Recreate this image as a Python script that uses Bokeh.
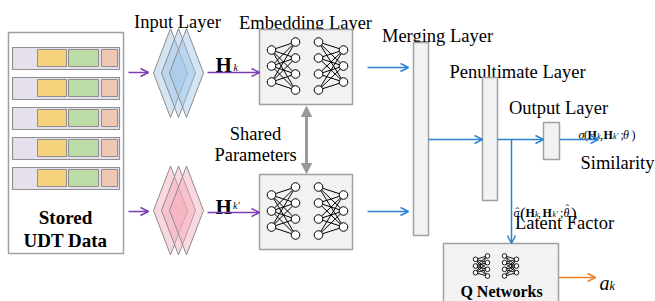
from bokeh.plotting import figure
from bokeh.models import Range1d, Arrow, OpenHead, NormalHead
from bokeh.core.properties import value
from bokeh.embed import file_html
from bokeh.resources import INLINE

# ---- content -------------------------------------------------------------
record_rows = ["r1", "r2", "r3", "r4", "r5"]            # stored UDT records
field_colors = ["#E5E0EC", "#F3D27B", "#BDDCA5", "#EFC8B4"]  # key / feature fields
layer_titles = ["Input Layer", "Embedding Layer", "Merging Layer",
                "Penultimate Layer", "Output Layer"]
store_label = ["Stored", "UDT Data"]
shared_label = ["Shared", "Parameters"]
net_left = [3, 4]    # nodes per column, first half of the embedding net
net_right = [4, 3]   # nodes per column, second half
output_names = ["Similarity", "Latent Factor", "Q Networks"]

FONT = value("Liberation Serif")
GRAY = "#A0A0A0"
BOXFILL = "#F2F2F2"
PURPLE = "#7B3DB3"
BLUE = "#2B83D3"
ORANGE = "#F0822D"

p = figure(width=655, height=301, x_range=Range1d(0, 655), y_range=Range1d(301, 0),
           output_backend="svg", toolbar_location=None, min_border=0)
p.axis.visible = False
p.grid.visible = False
p.outline_line_color = None
p.background_fill_color = "white"
p.border_fill_color = "white"


def box(l, r, t, b, fill, line=GRAY, lw=1.5):
    p.quad(left=[l], right=[r], top=[t], bottom=[b], fill_color=fill,
           line_color=line, line_width=lw)


def txt(x, y, s, size=18.5, style="normal", align="center"):
    p.text(x=[x], y=[y], text=[s], text_font=FONT, text_font_size=f"{size}px",
           text_font_style=style, text_align=align, text_baseline="alphabetic",
           text_color="black")


def arrow(x0, y0, x1, y1, color, lw=1.5, size=8):
    p.add_layout(Arrow(end=OpenHead(size=size, line_color=color, line_width=lw),
                       x_start=x0, y_start=y0, x_end=x1, y_end=y1,
                       line_color=color, line_width=lw))


def net(cols_x, counts, yc, spacing, r, lw=1.0):
    cols = []
    for cx, n in zip(cols_x, counts):
        ys = [yc + (i - (n - 1) / 2) * spacing for i in range(n)]
        cols.append([(cx, y) for y in ys])
    xs0, ys0, xs1, ys1 = [], [], [], []
    for a, b in zip(cols[:-1], cols[1:]):
        for (xa, ya) in a:
            for (xb, yb) in b:
                xs0.append(xa); ys0.append(ya); xs1.append(xb); ys1.append(yb)
    p.segment(x0=xs0, y0=ys0, x1=xs1, y1=ys1, line_color="black", line_width=lw)
    px = [pt[0] for c in cols for pt in c]
    py = [pt[1] for c in cols for pt in c]
    p.circle(x=px, y=py, radius=r, fill_color="white", line_color="black", line_width=lw)


# ---- stored UDT data -------------------------------------------------------
box(8, 123, 32, 253, "white")
for i, _ in enumerate(record_rows):
    top = 47 + 30 * i
    box(12, 119, top, top + 22, field_colors[0], line="#8F8F8F", lw=1.2)
    for (l, r), c in zip([(37, 66), (68, 98), (101, 117)], field_colors[1:]):
        box(l, r, top + 2, top + 19, c, line="#8F8F8F", lw=1.0)
txt(65, 217, store_label[0], size=19, style="bold")
txt(65, 240, store_label[1], size=19, style="bold")

# ---- input layer diamonds -------------------------------------------------
for yc, col in [(72.5, "#9DC3E6"), (210, "#F5A9B8")]:
    xs, ys = [], []
    for cx in [170, 178, 186]:
        xs.append([cx - 17, cx, cx + 17, cx])
        ys.append([yc, yc - 44.5, yc, yc + 44.5])
    p.patches(xs=xs, ys=ys, fill_color=col, fill_alpha=0.45,
              line_color="#8C8C8C", line_width=1)

arrow(128, 72, 148, 72, PURPLE)
arrow(128, 211, 148, 211, PURPLE)
arrow(207, 72, 259, 72, PURPLE)
arrow(207, 212, 259, 212, PURPLE)

# H_k and H_k'
txt(215, 64, "H", size=21, style="bold", align="left")
txt(233, 67, "k", size=10, style="italic", align="left")
txt(215, 206, "H", size=21, style="bold", align="left")
txt(232.5, 205, "k′", size=10, style="italic", align="left")

# ---- titles ---------------------------------------------------------------
txt(177, 21.5, layer_titles[0])
txt(305, 22.5, layer_titles[1])
txt(437, 35.5, layer_titles[2])
txt(517, 71.5, layer_titles[3])
txt(558, 107.5, layer_titles[4])

# ---- embedding boxes ------------------------------------------------------
for top in [29, 174]:
    box(259, 352, top, top + 75, BOXFILL)
    yc = top + 36.5
    net([271, 295], net_left, yc, 16, 4.3)
    net([318, 343], net_right, yc, 16, 4.3)

p.add_layout(Arrow(start=NormalHead(size=10, fill_color="#999999", line_color="#999999"),
                   end=NormalHead(size=10, fill_color="#999999", line_color="#999999"),
                   x_start=306, y_start=106, x_end=306, y_end=173,
                   line_color="#999999", line_width=3))
txt(255, 133, shared_label[0])
txt(255, 154, shared_label[1])

# ---- merging / penultimate / output --------------------------------------
arrow(367, 67, 408, 67, BLUE)
arrow(367, 211, 408, 211, BLUE)
box(413, 428, 42, 235, BOXFILL)
arrow(428, 139, 482, 139, BLUE)
box(482, 497, 77, 200, BOXFILL)
arrow(497, 139, 543, 139, BLUE)
arrow(511, 139, 511, 243, BLUE)
box(543, 559, 122, 159, BOXFILL)
arrow(559, 139, 598, 139, BLUE)

# sigma(H_k, H_k'; theta)
sig = [("σ", "italic", 12, 578, 134), ("(", "normal", 12, 583.5, 134),
       ("H", "bold", 12, 587, 134), ("k", "italic", 8, 596.5, 136),
       (",", "normal", 12, 599.5, 134), ("H", "bold", 12, 603, 134),
       ("k′", "italic", 8, 612.5, 136), (";", "normal", 12, 620, 134),
       ("θ", "italic", 12, 622.5, 134), (")", "normal", 12, 631, 134)]
for s, st, sz, x, y in sig:
    txt(x, y, s, size=sz, style=st, align="left")
txt(617, 162, output_names[0])

hat = [("σ", "italic", 12, 513, 212), ("ˆ", "normal", 11, 515, 210.5),
       ("(", "normal", 17, 519.5, 213), ("H", "bold", 12, 525, 212),
       ("k", "italic", 8, 534.5, 214), (",", "normal", 12, 537.5, 212),
       ("H", "bold", 12, 542, 212), ("k′", "italic", 8, 552, 214),
       (";", "normal", 12, 559.5, 212), ("θ", "italic", 12, 563, 212),
       ("ˆ", "normal", 11, 565, 207.5), (")", "normal", 17, 570.5, 213)]
for s, st, sz, x, y in hat:
    txt(x, y, s, size=sz, style=st, align="left")
txt(564, 222, output_names[1])

# ---- Q networks -----------------------------------------------------------
box(443, 558, 243, 302, BOXFILL)
net([475, 487], net_left, 265.5, 6.7, 2.3, lw=0.9)
net([504, 516], net_right, 265.5, 6.7, 2.3, lw=0.9)
txt(501, 291, output_names[2], size=16, style="bold")
arrow(558, 277, 595, 277, ORANGE)
txt(599, 282, "a", size=20, style="italic", align="left")
txt(609, 285, "k", size=12, style="italic", align="left")

open("out.html", "w").write(file_html(p, INLINE))
